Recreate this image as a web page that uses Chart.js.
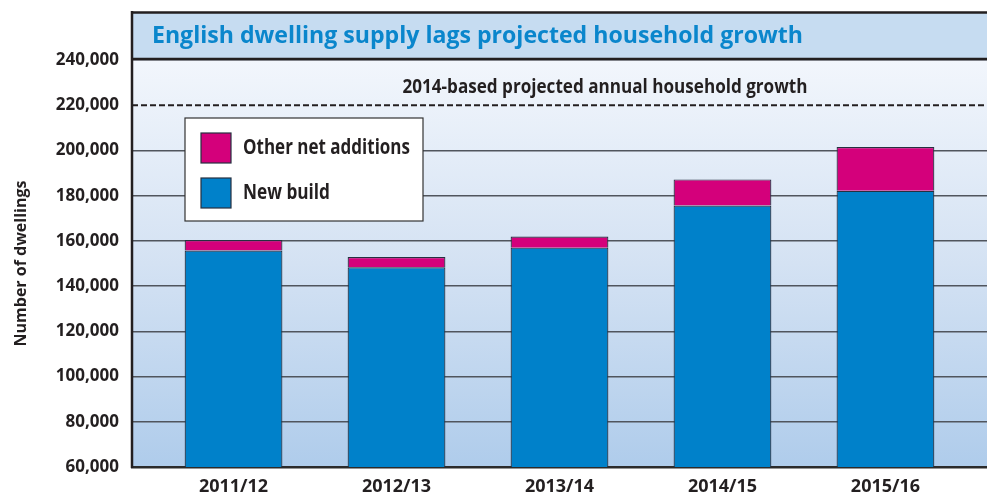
<!DOCTYPE html>
<html>
<head>
<meta charset="utf-8">
<script src="https://cdn.jsdelivr.net/npm/chart.js@4"></script>
<style>
    html, body { margin: 0; padding: 0; background: #fff; }
    #wrap { width: 987px; height: 497px; }
</style>
</head>
<body>
<div id="wrap"><canvas id="myChart" width="987" height="497"></canvas></div>
<script>
const categories = ['2011/12', '2012/13', '2013/14', '2014/15', '2015/16']
const newBuild = [155700, 148300, 157000, 175600, 182200]
const otherAdditions = [4700, 4600, 4900, 11600, 19300]
const yTickValues = [60000, 80000, 100000, 120000, 140000, 160000, 180000, 200000, 220000, 240000]
const projectedGrowth = 220000

const titleText = 'English dwelling supply lags projected household growth'
const lineLabel = '2014-based projected annual household growth'
const fontName = '"Open Sans", "Noto Sans", sans-serif'
const dark = '#231f20'

// backgrounds, title band, dashed line and the boxed legend
const framePlugin = {
    id: 'frame',
    beforeDraw(chart) {
        const ctx = chart.ctx
        const a = chart.chartArea
        ctx.save()
        const g = ctx.createLinearGradient(0, a.top, 0, a.bottom)
        g.addColorStop(0, '#f2f6fc')
        g.addColorStop(0.5, '#d4e2f3')
        g.addColorStop(1, '#afcceb')
        ctx.fillStyle = g
        ctx.fillRect(a.left, a.top, a.right - a.left, a.bottom - a.top)

        ctx.fillStyle = '#c6dcf1'
        ctx.fillRect(a.left, 12, a.right - a.left, a.top - 12)

        ctx.fillStyle = '#0a86cc'
        ctx.font = 'bold 24px ' + fontName
        ctx.textBaseline = 'alphabetic'
        ctx.textAlign = 'left'
        ctx.fillText(titleText, 152, 43, 651)
        ctx.restore()
    },
    afterDatasetsDraw(chart) {
        const ctx = chart.ctx
        const a = chart.chartArea
        const y = chart.scales.y.getPixelForValue(projectedGrowth)
        ctx.save()
        // title band borders
        ctx.strokeStyle = dark
        ctx.lineWidth = 2.5
        ctx.beginPath()
        ctx.moveTo(a.left, 12.5)
        ctx.lineTo(a.right, 12.5)
        ctx.moveTo(a.left, a.top - 1)
        ctx.lineTo(a.right, a.top - 1)
        ctx.stroke()

        // projection line
        ctx.lineWidth = 2
        ctx.setLineDash([6, 3])
        ctx.beginPath()
        ctx.moveTo(a.left, y)
        ctx.lineTo(a.right, y)
        ctx.stroke()
        ctx.setLineDash([])
        ctx.fillStyle = dark
        ctx.font = 'bold 19px ' + fontName
        ctx.textAlign = 'center'
        ctx.fillText(lineLabel, 605, y - 12, 405)

        // left frame
        ctx.lineWidth = 2.5
        ctx.beginPath()
        ctx.moveTo(a.left, 11)
        ctx.lineTo(a.left, a.bottom + 1)
        ctx.stroke()

        // legend box
        ctx.fillStyle = '#fff'
        ctx.fillRect(185, 118, 238, 103)
        ctx.strokeStyle = '#333'
        ctx.lineWidth = 1.2
        ctx.strokeRect(185, 118, 238, 103)
        const items = [chart.data.datasets[1], chart.data.datasets[0]]
        items.forEach((ds, i) => {
            const top = 133 + i * 45
            ctx.fillStyle = ds.backgroundColor
            ctx.fillRect(201, top, 30, 30)
            ctx.strokeStyle = '#263040'
            ctx.lineWidth = 1.2
            ctx.strokeRect(201, top, 30, 30)
            ctx.fillStyle = dark
            ctx.font = 'bold 21px ' + fontName
            ctx.textAlign = 'left'
            ctx.textBaseline = 'middle'
            const w = i === 0 ? 167 : 87
            ctx.fillText(ds.label, 243, top + 15, w)
        })
        ctx.restore()
    }
}

const data = {
    datasets: [{
        label: 'New build',
        data: newBuild.map((v, i) => ({ x: i, y: v })),
        backgroundColor: '#0081ca',
        borderColor: '#263040',
        borderWidth: 1.2
    }, {
        label: 'Other net additions',
        data: otherAdditions.map((v, i) => ({ x: i, y: v })),
        backgroundColor: '#d4007b',
        borderColor: '#263040',
        borderWidth: 1.2
    }]
}

const config = {
    type: 'bar',
    data: data,
    options: {
        responsive: false,
        animation: false,
        devicePixelRatio: 1,
        categoryPercentage: 1,
        barPercentage: 0.6,
        layout: { padding: { top: 60, left: 0, right: 0, bottom: 0 } },
        plugins: {
            legend: { display: false },
            tooltip: { enabled: false }
        },
        scales: {
            x: {
                type: 'linear',
                min: -0.623,
                max: 4.623,
                offset: false,
                stacked: true,
                afterBuildTicks: s => { s.ticks = categories.map((c, i) => ({ value: i })) },
                afterFit: s => { s.height = 30 },
                grid: { display: false, drawTicks: false },
                border: { display: true, color: '#2b2b2b', width: 2.5 },
                ticks: {
                    autoSkip: false,
                    maxRotation: 0,
                    padding: 9,
                    color: dark,
                    font: { family: fontName, weight: 'bold', size: 18 },
                    callback: v => categories[v]
                }
            },
            y: {
                stacked: true,
                min: 60000,
                max: 240000,
                afterBuildTicks: s => { s.ticks = yTickValues.map(v => ({ value: v })) },
                afterFit: s => { s.width = 132 },
                grid: {
                    color: c => (c.tick && c.tick.value === projectedGrowth) ? 'rgba(0,0,0,0)' : '#50555d',
                    lineWidth: 1.5,
                    drawTicks: false
                },
                border: { display: false },
                ticks: {
                    padding: 13,
                    color: dark,
                    font: { family: fontName, weight: 'bold', size: 17 },
                    callback: v => v.toLocaleString('en-GB')
                },
                title: {
                    display: true,
                    text: 'Number of dwellings',
                    color: dark,
                    font: { family: fontName, weight: 'bold', size: 16 },
                    padding: { top: 12, bottom: 0 }
                }
            }
        }
    },
    plugins: [framePlugin]
}

function chart() {
    const myChart = new Chart(document.getElementById('myChart'), config)
}
chart()
</script>
</body>
</html>
